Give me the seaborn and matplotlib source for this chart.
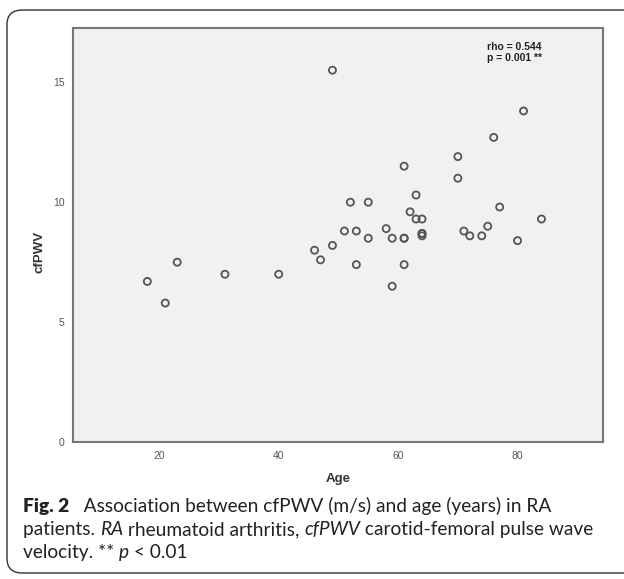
import matplotlib
matplotlib.use("Agg")
import matplotlib.pyplot as plt
import seaborn as sns
import pandas as pd
from matplotlib.patches import FancyBboxPatch

# data: age (years) vs cfPWV (m/s)
age = [18, 21, 23, 31, 40, 46, 47, 49, 49, 51, 52, 53, 53, 55, 55, 58,
       59, 59, 61, 61, 61, 61, 62, 63, 63, 64, 64, 64, 64, 70, 70, 71,
       72, 74, 75, 76, 77, 80, 81, 84]
cfpwv = [6.7, 5.8, 7.5, 7.0, 7.0, 8.0, 7.6, 8.2, 15.5, 8.8, 10.0, 8.8, 7.4, 10.0, 8.5, 8.9,
         8.5, 6.5, 11.5, 8.5, 7.4, 8.5, 9.6, 10.3, 9.3, 9.3, 8.7, 8.6, 8.7, 11.9, 11.0, 8.8,
         8.6, 8.6, 9.0, 12.7, 9.8, 8.4, 13.8, 9.3]
x_ticks = [20, 40, 60, 80]
y_ticks = [0, 5, 10, 15]
stats_text = "rho = 0.544\np = 0.001 **"

df = pd.DataFrame({"Age": age, "cfPWV": cfpwv})

sns.set_style("white")
plt.rcParams["font.family"] = ["Liberation Sans", "DejaVu Sans"]

fig = plt.figure(figsize=(6.24, 5.79), dpi=100)
ax = fig.add_axes([0.1165, 0.2361, 0.8498, 0.7161])
ax.set_facecolor("#f1f1f1")

sns.scatterplot(data=df, x="Age", y="cfPWV", ax=ax, s=26,
                facecolor="none", edgecolor="#555555", linewidth=1.3, zorder=3)

ax.set_xlim(5.5, 94.3)
ax.set_ylim(0, 17.27)
ax.set_xticks(x_ticks)
ax.set_yticks(y_ticks)
ax.tick_params(direction="out", length=4, width=1.2, color="#555555",
               labelsize=7.5, labelcolor="#555555", pad=2)
for sp in ax.spines.values():
    sp.set_color("#777777")
    sp.set_linewidth(1.5)

ax.set_xlabel("Age", fontsize=9.5, fontweight="bold", color="#333333")
ax.set_ylabel("cfPWV", fontsize=9.5, fontweight="bold", color="#333333")
ax.xaxis.set_label_coords(0.5, -0.074)
ax.yaxis.set_label_coords(-0.052, 0.46)

ax.text(0.782, 0.965, stats_text, transform=ax.transAxes, ha="left", va="top",
        fontsize=7.5, fontweight="bold", color="#222222", linespacing=1.05)

# outer rounded frame
frame = FancyBboxPatch((7 / 624, 6 / 579), 640 / 624, 563 / 579,
                       boxstyle="round,pad=0,rounding_size=0.025",
                       transform=fig.transFigure, fill=False,
                       edgecolor="#333333", linewidth=1.0, clip_on=False)
fig.patches.append(frame)

# caption with mixed bold / italic pieces
cap_font = ["Lato", "DejaVu Sans"]
cap_size = 13.8
lines = [
    [("Fig. 2", "heavy", "normal"), ("   Association between cfPWV (m/s) and age (years) in RA", "normal", "normal")],
    [("patients. ", "normal", "normal"), ("RA", "normal", "italic"),
     (" rheumatoid arthritis, ", "normal", "normal"), ("cfPWV", "normal", "italic"),
     (" carotid-femoral pulse wave", "normal", "normal")],
    [("velocity. ** ", "normal", "normal"), ("p", "normal", "italic"), (" < 0.01", "normal", "normal")],
]
line_baseline = [512, 535, 558]

fig.canvas.draw()
renderer = fig.canvas.get_renderer()
for pieces, yp in zip(lines, line_baseline):
    xp = 23
    for txt, weight, style in pieces:
        t = fig.text(xp / 624, 1 - yp / 579, txt, fontsize=cap_size, family=cap_font,
                     fontweight=weight, fontstyle=style, color="#222222", va="baseline")
        bb = t.get_window_extent(renderer=renderer)
        xp += bb.width

fig.savefig("out.png", dpi=100)
